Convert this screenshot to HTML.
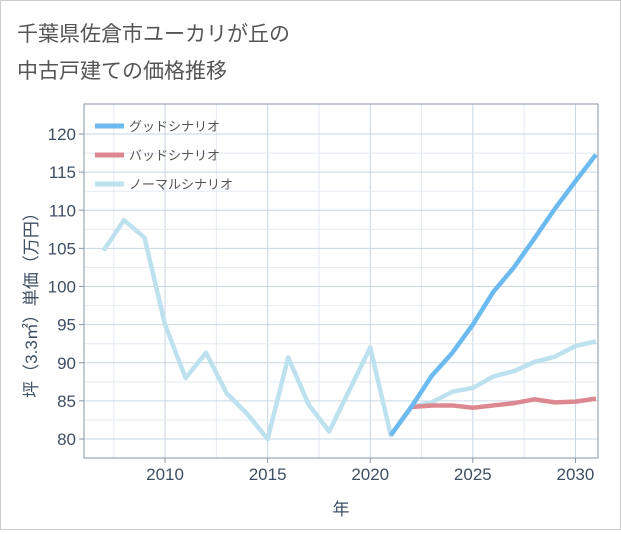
<!DOCTYPE html>
<html><head><meta charset="utf-8"><style>
body{margin:0;background:#fff;font-family:"Liberation Sans","Noto Sans CJK JP",sans-serif;}
#wrap{position:relative;width:619px;height:528px;border:1px solid #ccc;background:#fff;}
</style></head><body>
<div id="wrap">
<svg id="chart" width="619" height="528"></svg>
</div>
<script>
const years=[2007,2008,2009,2010,2011,2012,2013,2014,2015,2016,2017,2018,2019,2020,2021,2022,2023,2024,2025,2026,2027,2028,2029,2030,2031];
const normalVals=[104.7,108.7,106.4,95,88,91.3,86,83.3,80,90.7,84.5,81,86.5,92,80.5,84.2,84.8,86.2,86.7,88.2,88.9,90.1,90.8,92.2,92.8];
const futureYears=[2021,2022,2023,2024,2025,2026,2027,2028,2029,2030,2031];
const goodVals=[80.5,84.2,88.3,91.3,95,99.3,102.5,106.3,110.2,113.8,117.3];
const badVals=[80.5,84.2,84.4,84.4,84.1,84.4,84.7,85.2,84.8,84.9,85.3];
const xTicks=[2010,2015,2020,2025,2030];
const yTicks=[80,85,90,95,100,105,110,115,120];
const NS="http://www.w3.org/2000/svg";
const svg=document.getElementById('chart');
const L=83,R=597,T=103,B=457;
const x=v=>L+(v-2006.05)/(2031.1-2006.05)*(R-L);
const y=v=>438-(v-80)*7.625;
function mk(tag,attrs,parent){const e=document.createElementNS(NS,tag);for(const k in attrs)e.setAttribute(k,attrs[k]);(parent||svg).appendChild(e);return e;}
function txt(s,attrs){const e=mk('text',attrs);e.textContent=s;return e;}
const t1=txt('千葉県佐倉市ユーカリが丘の',{x:16,y:40,'font-size':21,fill:'#555'});


const t2=txt('中古戸建ての価格推移',{x:16,y:77,'font-size':21,fill:'#555'});


// grid
for(let v=2007.5;v<2031;v+=2.5){const g=mk('line',{x1:x(v),x2:x(v),y1:T,y2:B,stroke:xTicks.includes(v)?'#c9d6e3':'#e4ebf2','stroke-width':1});

}
for(let v=80;v<=120;v+=2.5){const g=mk('line',{x1:L,x2:R,y1:y(v),y2:y(v),stroke:yTicks.includes(v)?'#c9d6e3':'#e4ebf2','stroke-width':1});

}
const fr=mk('rect',{x:L,y:T,width:R-L,height:B-T,fill:'none',stroke:'#8a96a3','stroke-width':1});


xTicks.forEach(v=>{mk('line',{x1:x(v),x2:x(v),y1:B,y2:B+5,stroke:'#8a96a3'});
const e=txt(v,{x:x(v),y:B+22,'font-size':17,fill:'#3e4f63','text-anchor':'middle'});

});
yTicks.forEach(v=>{mk('line',{x1:L-5,x2:L,y1:y(v),y2:y(v),stroke:'#8a96a3'});
const e=txt(v,{x:L-8,y:y(v)+6,'font-size':17,fill:'#3e4f63','text-anchor':'end'});

});
const xt=txt('年',{x:340,y:514,'font-size':17,fill:'#3e4f63','text-anchor':'middle'});


const yt=txt('坪（3.3㎡）単価（万円）',{x:0,y:0,'font-size':17,fill:'#3e4f63','text-anchor':'middle',transform:'translate(36,300) rotate(-90)'});


function line(xs,vs,color,name){const d=xs.map((a,i)=>(i?'L':'M')+x(a)+','+y(vs[i])).join('');
const p=mk('path',{d:d,fill:'none',stroke:color,'stroke-width':4.5,'stroke-linejoin':'round'});

}
line(years,normalVals,'#bde1ef','normal-scenario-line');
line(futureYears,badVals,'#dd8890','bad-scenario-line');
line(futureYears,goodVals,'#6cbbf0','good-scenario-line');
const leg=[['グッドシナリオ','#6cbbf0'],['バッドシナリオ','#dd8890'],['ノーマルシナリオ','#bde1ef']];
leg.forEach((l,i)=>{const yy=125+i*29;
const g=mk('g',{});


mk('line',{x1:94,x2:123,y1:yy,y2:yy,stroke:l[1],'stroke-width':5},g);
const e=mk('text',{x:128,y:yy+5,'font-size':13,fill:'#555'},g);e.textContent=l[0];});
</script>
</body></html>
